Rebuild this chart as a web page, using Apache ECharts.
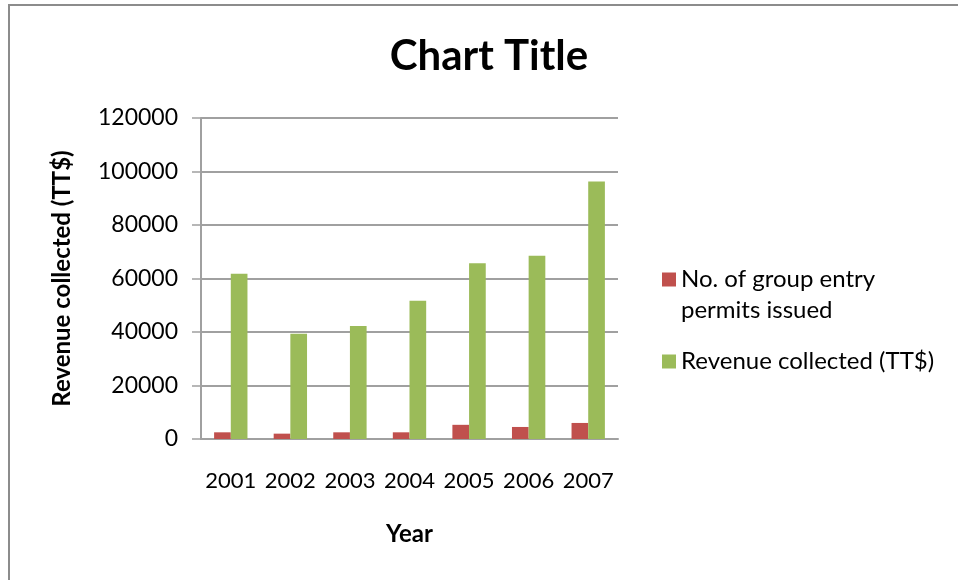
<!DOCTYPE html>
<html>
<head>
<meta charset="utf-8">
<script src="https://cdn.jsdelivr.net/npm/echarts@6/dist/echarts.min.js"></script>
<style>
  html, body { margin: 0; padding: 0; background: #fff; }
  #chart { width: 958px; height: 580px; }
</style>
</head>
<body>
<div id="chart"></div>
<script>
// Years on the category axis
const years = ['2001', '2002', '2003', '2004', '2005', '2006', '2007'];
// No. of group entry permits issued per year
const permitsIssued = [2500, 2000, 2500, 2500, 5300, 4500, 6000];
// Revenue collected per year (TT$)
const revenueCollected = [61800, 39300, 42200, 51700, 65700, 68500, 96300];
// Value axis range
const yMin = 0;
const yMax = 120000;
const yStep = 20000;

const FONT = 'Lato';
const PERMITS = 'No. of group entry\npermits issued';
const REVENUE = 'Revenue collected (TT$)';
const chart = echarts.init(document.getElementById('chart'), null, { renderer: 'canvas' });

chart.setOption({
  backgroundColor: '#ffffff',
  animation: false,
  textStyle: { fontFamily: FONT },
  graphic: [{
    type: 'rect',
    silent: true,
    shape: { x: 9, y: 5, width: 1200, height: 1200 },
    style: { fill: 'none', stroke: '#8c8c8c', lineWidth: 2 }
  }],
  title: {
    text: 'Chart Title',
    left: 489,
    textAlign: 'center',
    top: 35,
    padding: 0,
    textStyle: { fontFamily: FONT, fontSize: 42, fontWeight: 'bold', color: '#000' }
  },
  legend: {
    orient: 'vertical',
    left: 662,
    top: 233,
    padding: 0,
    itemWidth: 14,
    itemHeight: 14,
    itemGap: 20,
    icon: 'rect',
    // a leading blank line keeps the square beside the first line of a wrapped name
    formatter: name => (name.indexOf('\n') >= 0 ? '\n' + name : name),
    textStyle: { fontFamily: FONT, fontSize: 24, color: '#000', lineHeight: 31 },
    data: [PERMITS, REVENUE]
  },
  grid: { left: 201, top: 118, width: 417, height: 321, containLabel: false },
  xAxis: {
    type: 'category',
    data: years,
    name: 'Year',
    nameLocation: 'middle',
    nameGap: 83,
    nameTextStyle: { fontFamily: FONT, fontSize: 24, fontWeight: 'bold', color: '#000' },
    axisLine: { show: true, lineStyle: { color: '#a0a0a0', width: 2 } },
    axisTick: { show: false },
    axisLabel: { fontFamily: FONT, fontSize: 22, color: '#000', margin: 31, interval: 0 }
  },
  yAxis: {
    type: 'value',
    min: yMin,
    max: yMax,
    interval: yStep,
    name: REVENUE,
    nameLocation: 'middle',
    nameGap: 127,
    nameTextStyle: { fontFamily: FONT, fontSize: 24, fontWeight: 'bold', color: '#000' },
    axisLine: { show: true, lineStyle: { color: '#a0a0a0', width: 2 } },
    axisTick: { show: true, inside: false, length: 9, lineStyle: { color: '#a0a0a0', width: 1.5 } },
    axisLabel: { fontFamily: FONT, fontSize: 23, color: '#000', margin: 23, formatter: v => String(v) },
    splitLine: { show: true, lineStyle: { color: '#a0a0a0', width: 2 } }
  },
  series: [
    {
      name: PERMITS,
      type: 'bar',
      data: permitsIssued,
      barGap: '0%',
      barCategoryGap: '44%',
      itemStyle: { color: '#C0504D' }
    },
    {
      name: REVENUE,
      type: 'bar',
      data: revenueCollected,
      barGap: '0%',
      barCategoryGap: '44%',
      itemStyle: { color: '#9BBB59' }
    }
  ]
});
</script>
</body>
</html>
